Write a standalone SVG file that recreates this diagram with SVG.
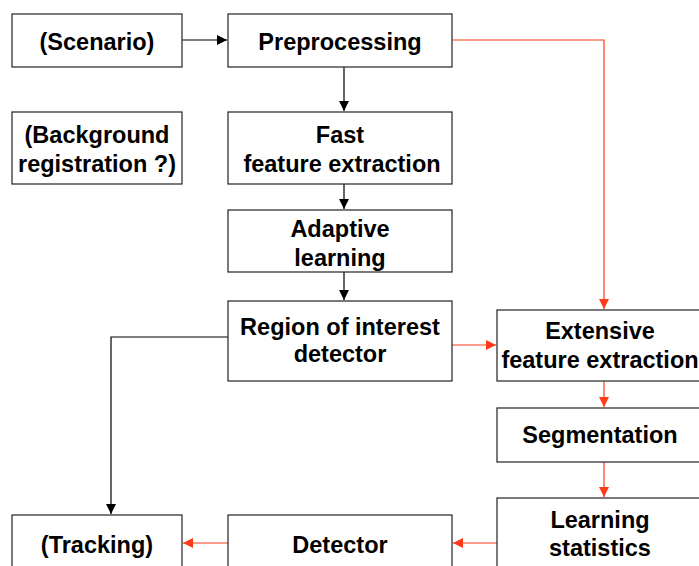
<svg xmlns="http://www.w3.org/2000/svg" width="699" height="566" viewBox="0 0 699 566">
<style>
.box{fill:#fff;stroke:#333;stroke-width:1.3}
.t{font-family:"Liberation Sans",Arial,sans-serif;font-weight:bold;font-size:23.5px;fill:#000;text-anchor:middle}
.k{fill:none;stroke:#000;stroke-width:1.2}
.r{fill:none;stroke:#ff3b1a;stroke-width:1.2}
</style>
<defs>
<marker id="ak" markerWidth="10" markerHeight="10" refX="10" refY="5" orient="auto" markerUnits="userSpaceOnUse"><path d="M0,0 L10,5 L0,10 z" fill="#000"/></marker>
<marker id="ar" markerWidth="10" markerHeight="10" refX="10" refY="5" orient="auto" markerUnits="userSpaceOnUse"><path d="M0,0 L10,5 L0,10 z" fill="#ff3b1a"/></marker>
</defs>
<rect width="699" height="566" fill="#fff"/>
<g id="connectors">
<path class="k" d="M182,40 H227" marker-end="url(#ak)"/>
<path class="k" d="M344,67 V111" marker-end="url(#ak)"/>
<path class="k" d="M344,184 V209" marker-end="url(#ak)"/>
<path class="k" d="M344,272 V300" marker-end="url(#ak)"/>
<path class="k" d="M228,337 H111 V514" marker-end="url(#ak)"/>
<path class="r" d="M452,40 H604 V309" marker-end="url(#ar)"/>
<path class="r" d="M452,345 H496" marker-end="url(#ar)"/>
<path class="r" d="M604,381 V407" marker-end="url(#ar)"/>
<path class="r" d="M604,462 V497" marker-end="url(#ar)"/>
<path class="r" d="M497,543 H453" marker-end="url(#ar)"/>
<path class="r" d="M228,543 H183" marker-end="url(#ar)"/>
</g>
<g id="scenario"><rect class="box" x="12" y="14" width="170" height="53"/><text class="t" x="97" y="50">(Scenario)</text></g>
<g id="preprocessing"><rect class="box" x="228" y="14" width="224" height="53"/><text class="t" x="340" y="50">Preprocessing</text></g>
<g id="background"><rect class="box" x="12" y="112" width="170" height="72"/><text class="t" x="97" y="143">(Background</text><text class="t" x="97" y="172">registration ?)</text></g>
<g id="fast"><rect class="box" x="228" y="112" width="224" height="72"/><text class="t" x="340" y="143">Fast</text><text class="t" x="342" y="172">feature extraction</text></g>
<g id="adaptive"><rect class="box" x="228" y="210" width="224" height="62"/><text class="t" x="340" y="237">Adaptive</text><text class="t" x="340" y="266">learning</text></g>
<g id="roi"><rect class="box" x="228" y="301" width="224" height="80"/><text class="t" x="340" y="335">Region of interest</text><text class="t" x="340" y="362">detector</text></g>
<g id="extensive"><rect class="box" x="497" y="310" width="210" height="71"/><text class="t" x="600" y="339">Extensive</text><text class="t" x="600" y="368">feature extraction</text></g>
<g id="segmentation"><rect class="box" x="497" y="408" width="210" height="54"/><text class="t" x="600" y="443">Segmentation</text></g>
<g id="learning"><rect class="box" x="497" y="498" width="210" height="80"/><text class="t" x="600" y="528">Learning</text><text class="t" x="600" y="556">statistics</text></g>
<g id="tracking"><rect class="box" x="12" y="515" width="170" height="60"/><text class="t" x="97" y="553">(Tracking)</text></g>
<g id="detector"><rect class="box" x="228" y="515" width="224" height="60"/><text class="t" x="340" y="553">Detector</text></g>
</svg>
